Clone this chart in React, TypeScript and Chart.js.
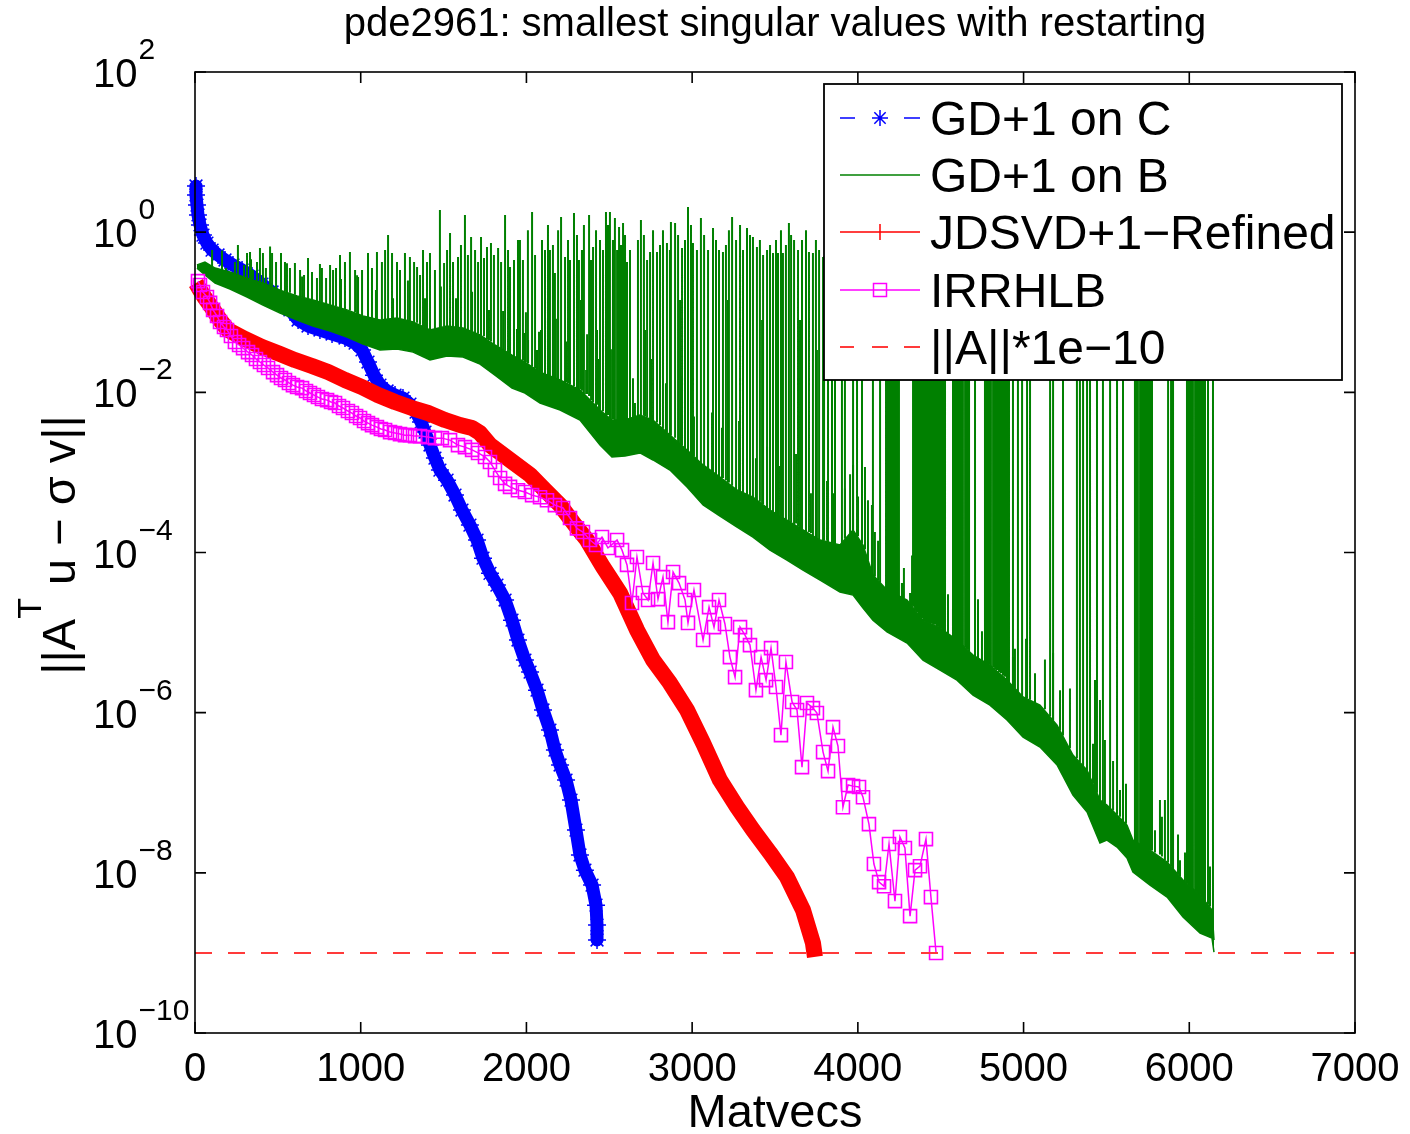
import React, { useEffect, useRef } from "react";
import { Chart, registerables } from "chart.js";

Chart.register(...registerables);

const FONT = '"Liberation Sans", Arial, Helvetica, sans-serif';

// ---------- axis ticks ----------
const xTicks = [0, 1000, 2000, 3000, 4000, 5000, 6000, 7000];
const xTickLabels = ["0", "1000", "2000", "3000", "4000", "5000", "6000", "7000"];
const yTicks = [1e2, 1e0, 1e-2, 1e-4, 1e-6, 1e-8, 1e-10];
const yTickExp = ["2", "0", "\u22122", "\u22124", "\u22126", "\u22128", "\u221210"];

// ---------- GD+1 on C ----------
const blueX = [6, 6, 12, 18, 30, 48, 72, 103, 139, 181, 229, 284, 344, 404, 465, 525, 573, 622, 682, 754, 827, 905, 966, 1008, 1044, 1080, 1116, 1159, 1207, 1255, 1297, 1334, 1364, 1388, 1418, 1448, 1478, 1521, 1569, 1611, 1659, 1702, 1738, 1780, 1822, 1871, 1913, 1949, 1991, 2022, 2064, 2100, 2142, 2172, 2203, 2239, 2269, 2299, 2323, 2353, 2396, 2420, 2426, 2426];
const blueY = [3.77, 2.91, 2.18, 1.64, 1.23, 0.92, 0.731, 0.598, 0.519, 0.449, 0.389, 0.337, 0.283, 0.225, 0.179, 0.142, 0.107, 0.08, 0.0673, 0.06, 0.0535, 0.0477, 0.0412, 0.0338, 0.0239, 0.0164, 0.0123, 0.0104, 0.00925, 0.00848, 0.00713, 0.00567, 0.00425, 0.00319, 0.0022, 0.00151, 0.00107, 8.0e-4, 5.22e-4, 3.39e-4, 2.2e-4, 1.43e-4, 8.5e-5, 5.5e-5, 3.92e-5, 2.55e-5, 1.43e-5, 8.07e-6, 4.54e-6, 3.21e-6, 1.91e-6, 1.08e-6, 6.07e-7, 3.41e-7, 2.22e-7, 1.44e-7, 8.1e-8, 3.42e-8, 1.67e-8, 1.08e-8, 7.03e-9, 3.95e-9, 2.23e-9, 1.45e-9];

// ---------- GD+1 on B: dense lower band ----------
const greenBandX = [12, 60, 121, 211, 314, 410, 513, 616, 712, 815, 917, 1014, 1116, 1219, 1316, 1418, 1521, 1617, 1720, 1810, 1913, 1991, 2082, 2203, 2323, 2444, 2516, 2595, 2685, 2764, 2866, 2969, 3066, 3168, 3271, 3367, 3470, 3572, 3669, 3772, 3892, 3971, 4031, 4091, 4176, 4297, 4393, 4496, 4598, 4695, 4797, 4900, 4997, 5099, 5202, 5298, 5383, 5461, 5503, 5564, 5624, 5660, 5763, 5866, 5962, 6065, 6137, 6149];
const greenBandLow = [0.356, 0.292, 0.232, 0.195, 0.155, 0.123, 0.0977, 0.08, 0.0673, 0.0582, 0.0491, 0.0401, 0.0338, 0.0348, 0.0318, 0.0253, 0.0284, 0.0276, 0.0225, 0.0164, 0.0113, 0.0098, 0.00735, 0.00601, 0.00451, 0.0022, 0.00156, 0.0016, 0.00175, 0.00143, 0.00107, 6.58e-4, 3.92e-4, 2.85e-4, 2.08e-4, 1.56e-4, 1.07e-4, 8.05e-5, 6.04e-5, 4.53e-5, 3.21e-5, 2.94e-5, 2.02e-5, 1.43e-5, 1.02e-5, 7.4e-6, 4.54e-6, 3.4e-6, 2.55e-6, 1.66e-6, 1.24e-6, 8.1e-7, 4.96e-7, 3.72e-7, 2.22e-7, 9.35e-8, 5.74e-8, 2.35e-8, 2.56e-8, 2.1e-8, 1.53e-8, 1.02e-8, 7.03e-9, 4.98e-9, 2.81e-9, 1.77e-9, 1.53e-9, 1.02e-9];
const greenBandHigh = [0.389, 0.424, 0.356, 0.318, 0.267, 0.232, 0.189, 0.16, 0.142, 0.123, 0.107, 0.0897, 0.08, 0.0847, 0.0755, 0.06, 0.0673, 0.0635, 0.052, 0.039, 0.0292, 0.0239, 0.0179, 0.01425, 0.0107, 0.00601, 0.00451, 0.00451, 0.0052, 0.00451, 0.00293, 0.0019, 0.00124, 8.75e-4, 6.03e-4, 4.92e-4, 3.39e-4, 2.54e-4, 1.91e-4, 1.43e-4, 1.24e-4, 1.91e-4, 1.24e-4, 5.23e-5, 3.4e-5, 2.55e-5, 1.43e-5, 1.14e-5, 8.07e-6, 5.24e-6, 3.93e-6, 2.55e-6, 1.57e-6, 1.24e-6, 7.0e-7, 2.96e-7, 1.92e-7, 8.1e-8, 7.0e-8, 5.26e-8, 3.95e-8, 2.56e-8, 1.92e-8, 1.36e-8, 8.13e-9, 5.27e-9, 3.43e-9, 1.45e-9];

// ---------- GD+1 on B: tall spikes (x, foot, tip) ----------
const greenSpikeX = [
  103, 187, 241, 314, 332, 392, 410, 465, 519, 543, 603, 634, 682, 736, 766, 815, 833, 875, 935, 966, 984, 1044, 1098, 1165, 1189, 1219, 1267, 1297, 1340, 1376, 1418, 1478, 1503, 1539, 1587, 1629, 1666, 1690, 1726, 1762, 1786, 1829, 1871, 1901, 1949,
  296, 350, 374, 428, 489, 573, 658, 706, 791, 851, 905, 1008, 1068, 1128, 1147, 1237, 1322, 1358, 1400, 1448, 1521, 1557, 1605, 1647, 1708, 1744, 1804, 1847, 1889, 1925,
  1961, 1991, 2034, 2064, 2112, 2142, 2172, 2209, 2233, 2263, 2287, 2317, 2360, 2378, 2402, 2444, 2480, 2504, 2534, 2559, 2583, 2607, 2655, 2691, 2746, 2788, 2848, 2872, 2897, 2939, 2975, 3005, 3053, 3126, 3162, 3186, 3241, 3289, 3331, 3367, 3391, 3452, 3488, 3518, 3548, 3584, 3615, 3705, 3729, 3790,
  1979, 2009, 2052, 2094, 2130, 2160, 2191, 2251, 2305, 2335, 2347, 2390, 2420, 2462, 2492, 2522, 2547, 2571, 2595, 2625, 2673, 2709, 2728, 2764, 2806, 2824, 2866, 2915, 2957, 2993, 3029, 3072, 3096, 3144, 3204, 3222, 3265, 3307, 3349, 3409, 3428, 3470, 3506, 3536, 3566, 3597, 3639, 3663, 3687, 3747, 3766,
  3796, 3820, 3844, 3862, 3904, 3922, 3971, 3995, 4025, 4091, 4134, 4182, 4200, 4218, 4236, 4333, 4357, 4375, 4399, 4417, 4435, 4454, 4478, 4502, 4526, 4574, 4598, 4622, 4647, 4659, 4707, 4767, 4791, 4816, 4840, 4864, 4888, 4900, 4936, 4966, 4991, 5021, 5039, 5160, 5178, 5238, 5322, 5340, 5359, 5383, 5401, 5443, 5479, 5522, 5564, 5600, 5672, 5690, 5709, 5727, 5745, 5763, 5872, 5890, 5902, 5986, 6010, 6035, 6059, 6083, 6113, 6143,
  4170, 4188, 4206, 4224, 4248, 4345, 4369, 4387, 4411, 4429, 4447, 4466, 4490, 4514, 4586, 4610, 4634, 4671, 4779, 4803, 4828, 4852, 4876, 4912, 5684, 5703, 5721, 5739, 5757, 5775, 5998, 6022, 6047, 6071, 6095,
];
const greenSpikePeak = [
  0.598, 0.356, 0.424, 0.549, 0.565, 0.634, 0.549, 0.549, 0.549, 0.424, 0.412, 0.337, 0.475, 0.267, 0.356, 0.389, 0.337, 0.519, 0.565, 0.337, 0.275, 0.549, 0.565, 0.92, 0.549, 0.424, 0.549, 0.49, 0.367, 0.598, 0.549, 1.89, 0.412, 0.975, 0.49, 1.64, 0.87, 0.598, 0.87, 0.652, 0.731, 0.634, 1.64, 0.367, 0.8,
  0.389, 0.337, 0.424, 0.356, 0.424, 0.356, 0.292, 0.318, 0.267, 0.356, 0.424, 0.337, 0.356, 0.424, 0.598, 0.337, 0.424, 0.292, 0.424, 0.337, 0.598, 0.424, 0.69, 0.519, 0.424, 0.475, 0.519, 0.424, 0.598, 0.449,
  0.8, 0.055, 1.79, 0.0338, 0.598, 0.598, 0.309, 1.55, 0.49, 0.449, 1.73, 0.449, 0.019, 1.64, 0.652, 0.8, 1.79, 1.79, 1.5, 1.16, 1.3, 0.424, 0.00735, 1.42, 0.565, 0.565, 0.731, 1.34, 1.3, 0.634, 2.06, 0.731, 1.5, 1.13, 0.598, 0.565, 1.55, 1.23, 1.13, 0.87, 0.652, 0.598, 0.549, 0.549, 0.549, 1.3, 0.8, 0.565, 0.549, 0.49,
  0.449, 1.06, 0.519, 0.8, 1.23, 0.69, 1.06, 0.8, 0.92, 0.598, 1.23, 0.449, 1.06, 0.598, 1.23, 0.8, 0.598, 0.69, 0.92, 0.598, 0.8, 0.92, 0.449, 1.06, 0.69, 1.06, 0.598, 0.92, 0.8, 1.23, 0.598, 0.92, 0.598, 0.8, 0.69, 1.06, 0.8, 0.598, 0.92, 0.8, 0.519, 0.69, 0.8, 1.06, 0.69, 0.92, 0.598, 0.8, 1.06, 0.8, 0.598,
  0.5, 0.8, 1.1, 0.7, 1.3, 0.9, 1.2, 0.6, 1.0, 1.4, 0.8, 1.1, 0.7, 1.2, 0.9, 1.3, 0.6, 1.0, 1.2, 0.8, 1.5, 0.9, 1.1, 0.7, 1.3, 1.0, 0.8, 1.2, 0.9, 1.4, 0.7, 1.1, 0.9, 1.3, 0.8, 1.0, 1.2, 0.6, 1.1, 0.9, 1.3, 0.8, 1.0, 1.2, 0.7, 1.1, 0.9, 1.4, 0.8, 1.0, 1.2, 0.7, 1.1, 0.9, 1.3, 0.8, 1.0, 1.2, 0.9, 1.1, 0.8, 1.3, 1.0, 0.7, 1.2, 0.9, 1.1, 0.8, 1.0, 1.3, 0.9, 1.1,
  1.0, 0.8, 1.2, 0.9, 1.1, 1.3, 0.7, 1.0, 1.2, 0.9, 1.1, 0.8, 1.3, 1.0, 0.9, 1.2, 0.8, 1.1, 1.0, 1.3, 0.7, 1.2, 0.9, 1.1, 1.0, 1.2, 0.8, 1.1, 0.9, 1.3, 1.0, 0.8, 1.2, 0.9, 1.1,
];
const greenSpikeBase = [
  0.356, 0.318, 0.29, 0.267, 0.26, 0.24, 0.232, 0.21, 0.189, 0.18, 0.165, 0.155, 0.145, 0.138, 0.133, 0.123, 0.12, 0.115, 0.105, 0.1, 0.095, 0.087, 0.082, 0.082, 0.084, 0.0847, 0.08, 0.077, 0.074, 0.066, 0.06, 0.065, 0.067, 0.066, 0.064, 0.062, 0.058, 0.055, 0.051, 0.046, 0.043, 0.037, 0.033, 0.03, 0.026,
  0.27, 0.26, 0.25, 0.225, 0.2, 0.175, 0.15, 0.142, 0.127, 0.12, 0.11, 0.09, 0.085, 0.082, 0.082, 0.083, 0.075, 0.07, 0.063, 0.062, 0.067, 0.066, 0.064, 0.06, 0.054, 0.05, 0.04, 0.035, 0.031, 0.028,
  0.025, 0.024, 0.021, 0.019, 0.017, 0.016, 0.015, 0.014, 0.013, 0.0125, 0.012, 0.011, 0.0095, 0.009, 0.0075, 0.006, 0.0052, 0.0047, 0.0045, 0.0045, 0.0045, 0.0046, 0.0049, 0.0052, 0.0046, 0.0042, 0.0032, 0.0029, 0.0027, 0.0022, 0.0018, 0.0016, 0.0013, 0.001, 9e-4, 8.5e-4, 6.8e-4, 5.8e-4, 5.2e-4, 4.9e-4, 4.5e-4, 3.6e-4, 3.1e-4, 2.9e-4, 2.7e-4, 2.4e-4, 2.2e-4, 1.8e-4, 1.6e-4, 1.4e-4,
  0.025, 0.023, 0.02, 0.017, 0.016, 0.015, 0.0145, 0.013, 0.011, 0.0105, 0.0095, 0.008, 0.0065, 0.0058, 0.0052, 0.0046, 0.0045, 0.0045, 0.0045, 0.0047, 0.005, 0.0051, 0.0049, 0.0045, 0.0039, 0.0035, 0.0029, 0.0024, 0.002, 0.0017, 0.0014, 0.0012, 0.0011, 9.5e-4, 8e-4, 7.5e-4, 6.2e-4, 5.6e-4, 5.1e-4, 4.3e-4, 4e-4, 3.4e-4, 3e-4, 2.8e-4, 2.6e-4, 2.4e-4, 2.1e-4, 1.95e-4, 1.8e-4, 1.55e-4, 1.45e-4,
  1.4e-4, 1.35e-4, 1.3e-4, 1.28e-4, 1.3e-4, 1.5e-4, 1.9e-4, 1.6e-4, 1.3e-4, 5.2e-5, 4.2e-5, 3.3e-5, 3.1e-5, 3.0e-5, 2.9e-5, 2.1e-5, 1.8e-5, 1.55e-5, 1.4e-5, 1.35e-5, 1.3e-5, 1.25e-5, 1.2e-5, 1.12e-5, 1.0e-5, 8.6e-6, 8.0e-6, 7.3e-6, 6.5e-6, 6.2e-6, 5.0e-6, 4.2e-6, 4.0e-6, 3.7e-6, 3.4e-6, 3.1e-6, 2.8e-6, 2.55e-6, 2.1e-6, 1.8e-6, 1.6e-6, 1.5e-6, 1.45e-6, 9e-7, 8e-7, 5.2e-7, 2.7e-7, 2.4e-7, 2.1e-7, 1.9e-7, 1.5e-7, 1.0e-7, 7.5e-8, 6.2e-8, 5.3e-8, 4.4e-8, 2.4e-8, 2.2e-8, 2.1e-8, 2.0e-8, 1.95e-8, 1.92e-8, 1.35e-8, 1.2e-8, 1.1e-8, 7.3e-9, 6.5e-9, 5.9e-9, 5.4e-9, 4.7e-9, 4.0e-9, 1.5e-9,
  3.5e-5, 3.3e-5, 3.1e-5, 3.0e-5, 2.8e-5, 1.9e-5, 1.65e-5, 1.5e-5, 1.4e-5, 1.35e-5, 1.3e-5, 1.25e-5, 1.15e-5, 1.05e-5, 8.3e-6, 7.6e-6, 6.8e-6, 5.8e-6, 4.1e-6, 3.8e-6, 3.5e-6, 3.2e-6, 2.9e-6, 2.4e-6, 2.3e-8, 2.15e-8, 2.05e-8, 2.0e-8, 1.93e-8, 1.9e-8, 6.9e-9, 6.2e-9, 5.6e-9, 5.0e-9, 4.4e-9,
];

// ---------- GD+1 on B: short spikes above the band ----------
const greenMidX = [
  2010, 2088, 2130, 2191, 2329, 2426, 2625, 2716, 2806, 2927, 3096, 3216, 3422, 3651, 3753, 3971, 4043, 4085, 4103, 4266, 4315, 4478, 4574, 4604, 4840, 4936, 5178, 5383, 5431, 5461, 5491, 5582, 5793, 5823, 5944,
  163, 259, 338, 453, 555, 646, 754, 881, 978, 1092, 1195, 1285, 1388, 1484, 1575, 1672, 1774, 1859, 1943,
  1997, 2076, 2178, 2239, 2366, 2438, 2510, 2643, 2752, 2842, 2933, 3011, 3120, 3180, 3283, 3385, 3452, 3524, 3627, 3717, 3814, 3856,
  3953, 4001, 4061, 4122, 4278, 4327, 4544, 4628, 4725, 4749, 4948, 5015, 5069, 5129, 5220, 5280, 5419, 5540, 5618, 5835, 5853, 5932, 5974, 6125, 3922,
];
const greenMidPeak = [
  0.045, 0.06, 0.08, 0.142, 0.142, 0.06, 0.06, 0.06, 0.142, 0.142, 0.06, 0.142, 0.08, 0.08, 0.0338, 0.00124, 0.00117, 3.92e-4, 1.8e-4, 4.15e-5, 3.12e-5, 7.4e-5, 2.02e-5, 4.93e-5, 1.43e-4, 4.94e-6, 5.55e-6, 8.1e-7, 2.55e-6, 1.44e-6, 4.55e-7, 1.08e-7, 3.4e-8, 8.1e-8, 1.44e-8,
  0.59, 0.69, 0.46, 0.66, 0.41, 0.28, 0.4, 0.26, 0.29, 0.19, 0.15, 0.25, 0.15, 0.21, 0.15, 0.18, 0.107, 0.104, 0.062,
  0.1, 0.057, 0.083, 0.043, 0.053, 0.026, 0.0345, 0.015, 0.026, 0.013, 0.016, 0.005, 0.0056, 0.0036, 0.0044, 0.0015, 0.0021, 0.0012, 0.0017, 5.5e-4, 7.8e-4, 5.5e-4,
  9.5e-4, 5e-4, 4.5e-4, 1.4e-4, 6.4e-5, 9.2e-5, 3e-5, 1.66e-5, 2.6e-5, 1.04e-5, 6.3e-6, 8.4e-6, 3.1e-6, 4.6e-6, 1.9e-6, 2e-6, 4.1e-7, 2.5e-7, 1.3e-7, 5e-8, 8.1e-8, 3e-8, 1.8e-8, 1.2e-8, 6.3e-4,
];
const greenMidBase = [
  0.023, 0.018, 0.016, 0.0145, 0.011, 0.007, 0.0046, 0.005, 0.004, 0.0023, 0.0011, 7.5e-4, 4e-4, 2e-4, 1.5e-4, 1.9e-4, 1.1e-4, 5.5e-5, 5e-5, 2.7e-5, 2.2e-5, 1.2e-5, 8.6e-6, 8e-6, 3.4e-6, 2.1e-6, 8e-7, 1.9e-7, 1.1e-7, 8.1e-8, 7.3e-8, 5e-8, 1.8e-8, 1.7e-8, 9e-9,
  0.33, 0.29, 0.26, 0.21, 0.175, 0.155, 0.128, 0.11, 0.092, 0.081, 0.084, 0.078, 0.064, 0.065, 0.065, 0.057, 0.045, 0.033, 0.026,
  0.024, 0.018, 0.0148, 0.0135, 0.0095, 0.0062, 0.0046, 0.0048, 0.0046, 0.0031, 0.0021, 0.0016, 0.001, 8.5e-4, 5.9e-4, 4.7e-4, 3.7e-4, 2.9e-4, 2.3e-4, 1.75e-4, 1.4e-4, 1.3e-4,
  1.7e-4, 1.6e-4, 8e-5, 4.5e-5, 2.7e-5, 2.2e-5, 9.5e-6, 7e-6, 4.7e-6, 4.4e-6, 2e-6, 1.5e-6, 1.3e-6, 1.1e-6, 6e-7, 3.6e-7, 1.3e-7, 6e-8, 4.1e-8, 1.6e-8, 1.45e-8, 9.5e-9, 7.6e-9, 3.8e-9, 1.5e-4,
];

// ---------- JDSVD+1-Refined ----------
const redX = [6, 30, 60, 103, 151, 199, 302, 404, 513, 603, 706, 803, 905, 1008, 1104, 1207, 1310, 1406, 1509, 1599, 1672, 1720, 1780, 1901, 2022, 2112, 2203, 2293, 2366, 2462, 2565, 2667, 2764, 2866, 2969, 3066, 3168, 3271, 3367, 3470, 3572, 3669, 3729, 3741];
const redY = [0.232, 0.19, 0.151, 0.113, 0.08, 0.06, 0.0463, 0.0368, 0.0301, 0.0253, 0.0213, 0.0179, 0.01425, 0.01164, 0.00926, 0.00757, 0.00637, 0.00552, 0.00451, 0.00391, 0.00358, 0.0031, 0.0022, 0.00143, 9.3e-4, 6.0e-4, 3.9e-4, 2.2e-4, 1.43e-4, 6.6e-5, 3.12e-5, 1.08e-5, 4.54e-6, 2.34e-6, 1.08e-6, 4.18e-7, 1.44e-7, 6.64e-8, 3.42e-8, 1.77e-8, 8.87e-9, 3.43e-9, 1.33e-9, 8.9e-10];

// ---------- IRRHLB ----------
const magX = [18, 30, 48, 72, 91, 109, 133, 151, 175, 193, 217, 241, 266, 290, 320, 344, 368, 392, 416, 441, 471, 495, 519, 543, 567, 591, 616, 646, 670, 694, 718, 742, 766, 797, 821, 845, 869, 893, 923, 947, 972, 996, 1020, 1044, 1068, 1098, 1122, 1147, 1177, 1207, 1237, 1267, 1297, 1328, 1358, 1406, 1448, 1490, 1539, 1587, 1629, 1672, 1708, 1750, 1780, 1810, 1841, 1871, 1901, 1949, 1991, 2034, 2082, 2124, 2172, 2221, 2263, 2305, 2341, 2384, 2420, 2456, 2492, 2547, 2577, 2607, 2637, 2667, 2703, 2734, 2764, 2794, 2824, 2854, 2885, 2921, 2957, 2975, 3011, 3066, 3102, 3132, 3162, 3198, 3228, 3259, 3289, 3319, 3349, 3385, 3416, 3446, 3476, 3506, 3536, 3566, 3603, 3633, 3663, 3693, 3729, 3753, 3790, 3820, 3850, 3880, 3910, 3941, 3971, 4007, 4031, 4067, 4097, 4128, 4158, 4188, 4224, 4254, 4284, 4315, 4345, 4375, 4411, 4441, 4472];
const magY = [0.245, 0.219, 0.179, 0.155, 0.131, 0.107, 0.0897, 0.0755, 0.0654, 0.06, 0.0505, 0.0425, 0.039, 0.0357, 0.0318, 0.0292, 0.0261, 0.0239, 0.0219, 0.0201, 0.0179, 0.0164, 0.0151, 0.01425, 0.0131, 0.0123, 0.01164, 0.0113, 0.0104, 0.0098, 0.00925, 0.00873, 0.00824, 0.008, 0.00757, 0.00735, 0.00675, 0.00637, 0.00584, 0.00551, 0.00506, 0.00478, 0.00438, 0.00413, 0.0039, 0.00368, 0.00348, 0.00338, 0.00319, 0.0031, 0.00301, 0.00292, 0.00292, 0.00284, 0.00284, 0.00276, 0.00268, 0.00268, 0.00253, 0.00219, 0.00207, 0.00191, 0.00175, 0.00156, 0.00135, 0.00107, 8.5e-4, 7.2e-4, 6.6e-4, 6.0e-4, 5.7e-4, 5.2e-4, 4.9e-4, 4.5e-4, 3.9e-4, 3.6e-4, 2.7e-4, 2.0e-4, 1.8e-4, 1.43e-4, 1.24e-4, 1.56e-4, 1.14e-4, 1.43e-4, 1.07e-4, 7.0e-5, 2.34e-5, 8.8e-5, 3.12e-5, 2.55e-5, 7.4e-5, 2.62e-5, 4.93e-5, 1.35e-5, 5.7e-5, 4.15e-5, 2.55e-5, 1.32e-5, 3.4e-5, 8.07e-6, 2.08e-5, 1.17e-5, 2.55e-5, 1.28e-5, 4.94e-6, 2.78e-6, 1.17e-5, 9.3e-6, 6.98e-6, 1.91e-6, 4.94e-6, 2.55e-6, 6.4e-6, 2.09e-6, 5.25e-7, 4.29e-6, 1.36e-6, 1.08e-6, 2.09e-7, 1.32e-6, 1.14e-6, 9.9e-7, 3.22e-7, 1.86e-7, 6.6e-7, 3.83e-7, 6.6e-8, 1.25e-7, 1.21e-7, 1.18e-7, 8.8e-8, 4.06e-8, 1.29e-8, 7.66e-9, 6.8e-9, 2.29e-8, 4.44e-9, 2.8e-8, 2.04e-8, 2.88e-9, 1.08e-8, 1.21e-8, 2.64e-8, 4.98e-9, 9.96e-10];

// ---------- ||A||*1e-10 ----------
const limitX = [0, 7000];
const limitY = [1e-9, 1e-9];

const legendLabels = ["GD+1 on C", "GD+1 on B", "JDSVD+1\u2212Refined", "IRRHLB", "||A||*1e\u221210"];

const BLUE = "#0000ff";
const GREEN = "#008000";
const RED = "#ff0000";
const MAGENTA = "#ff00ff";
const LIMIT = "#ff3a3a";

const pts = (xs: number[], ys: number[]) => xs.map((x, i) => ({ x, y: ys[i] }));
const segs = (xs: number[], lo: number[], hi: number[]) =>
  xs.flatMap((x, i) => [{ x, y: lo[i] }, { x, y: hi[i] }, { x, y: null as any }]);

function drawStar(ctx: CanvasRenderingContext2D, x: number, y: number, r: number) {
  ctx.beginPath();
  ctx.moveTo(x - r, y); ctx.lineTo(x + r, y);
  ctx.moveTo(x, y - r); ctx.lineTo(x, y + r);
  const d = r * Math.SQRT1_2;
  ctx.moveTo(x - d, y - d); ctx.lineTo(x + d, y + d);
  ctx.moveTo(x - d, y + d); ctx.lineTo(x + d, y - d);
  ctx.stroke();
}

const overlay = {
  id: "overlay",
  afterDraw(chart: any) {
    const { ctx, chartArea: a, scales } = chart;
    const xs = scales.x;
    const ys = scales.y;
    ctx.save();

    ctx.strokeStyle = "#000";
    ctx.lineWidth = 1.6;
    ctx.setLineDash([]);
    ctx.strokeRect(a.left, a.top, a.right - a.left, a.bottom - a.top);

    const TL = 11;
    ctx.beginPath();
    xTicks.forEach((v) => {
      const p = xs.getPixelForValue(v);
      ctx.moveTo(p, a.bottom); ctx.lineTo(p, a.bottom - TL);
      ctx.moveTo(p, a.top); ctx.lineTo(p, a.top + TL);
    });
    yTicks.forEach((v) => {
      const p = ys.getPixelForValue(v);
      ctx.moveTo(a.left, p); ctx.lineTo(a.left + TL, p);
      ctx.moveTo(a.right, p); ctx.lineTo(a.right - TL, p);
    });
    ctx.stroke();

    ctx.fillStyle = "#000";
    ctx.font = `40px ${FONT}`;
    ctx.textAlign = "center";
    ctx.textBaseline = "alphabetic";
    xTicks.forEach((v, i) => {
      ctx.fillText(xTickLabels[i], xs.getPixelForValue(v), a.bottom + 48);
    });

    ctx.textAlign = "left";
    yTicks.forEach((v, i) => {
      const p = ys.getPixelForValue(v);
      ctx.font = `40px ${FONT}`;
      ctx.fillText("10", 93, p + 15);
      const w = ctx.measureText("10").width;
      ctx.font = `30px ${FONT}`;
      ctx.fillText(yTickExp[i], 93 + w + 1, p - 13);
    });

    ctx.font = `47px ${FONT}`;
    ctx.textAlign = "center";
    ctx.fillText("Matvecs", (a.left + a.right) / 2, 1127);

    ctx.font = `40px ${FONT}`;
    ctx.fillText("pde2961: smallest singular values with restarting", (a.left + a.right) / 2, 36);

    // y axis label ||A^T u − σ v||
    ctx.save();
    ctx.translate(75, 545);
    ctx.rotate(-Math.PI / 2);
    ctx.textAlign = "left";
    const p1 = "||A";
    const p2 = "T";
    const p3 = " u \u2212 \u03c3 v||";
    ctx.font = `47px ${FONT}`;
    const w1 = ctx.measureText(p1).width;
    const w3 = ctx.measureText(p3).width;
    ctx.font = `34px ${FONT}`;
    const w2 = ctx.measureText(p2).width;
    let sx = -(w1 + w2 + w3) / 2;
    ctx.font = `47px ${FONT}`;
    ctx.fillText(p1, sx, 0);
    sx += w1;
    ctx.font = `34px ${FONT}`;
    ctx.fillText(p2, sx, -34);
    sx += w2;
    ctx.font = `47px ${FONT}`;
    ctx.fillText(p3, sx, 0);
    ctx.restore();

    // legend box
    const L = { x: 824, y: 84, w: 518, h: 296 };
    ctx.fillStyle = "#fff";
    ctx.fillRect(L.x, L.y, L.w, L.h);
    ctx.strokeStyle = "#000";
    ctx.lineWidth = 1.8;
    ctx.strokeRect(L.x, L.y, L.w, L.h);
    const rows = [118, 175, 232, 290, 347];
    const x0 = 840, x1 = 920, xm = 880;
    ctx.lineWidth = 1.5;
    ctx.strokeStyle = BLUE;
    ctx.beginPath();
    ctx.moveTo(x0, rows[0]); ctx.lineTo(x0 + 15, rows[0]);
    ctx.moveTo(x1 - 16, rows[0]); ctx.lineTo(x1, rows[0]);
    ctx.stroke();
    drawStar(ctx, xm, rows[0], 8);
    ctx.strokeStyle = GREEN;
    ctx.beginPath(); ctx.moveTo(x0, rows[1]); ctx.lineTo(x1, rows[1]); ctx.stroke();
    ctx.strokeStyle = RED;
    ctx.beginPath(); ctx.moveTo(x0, rows[2]); ctx.lineTo(x1, rows[2]);
    ctx.moveTo(xm, rows[2] - 8); ctx.lineTo(xm, rows[2] + 8); ctx.stroke();
    ctx.strokeStyle = MAGENTA;
    ctx.beginPath(); ctx.moveTo(x0, rows[3]); ctx.lineTo(x1, rows[3]); ctx.stroke();
    ctx.strokeRect(xm - 6.5, rows[3] - 6.5, 13, 13);
    ctx.strokeStyle = LIMIT;
    ctx.lineWidth = 2;
    ctx.beginPath();
    ctx.moveTo(840, rows[4]); ctx.lineTo(854, rows[4]);
    ctx.moveTo(872, rows[4]); ctx.lineTo(888, rows[4]);
    ctx.moveTo(904, rows[4]); ctx.lineTo(920, rows[4]);
    ctx.stroke();

    ctx.fillStyle = "#000";
    ctx.font = `48px ${FONT}`;
    ctx.textAlign = "left";
    legendLabels.forEach((t, i) => ctx.fillText(t, 930, rows[i] + 17));

    ctx.restore();
  },
};

export default function App() {
  const ref = useRef<HTMLCanvasElement | null>(null);

  useEffect(() => {
    document.body.style.margin = "0";
    const canvas = ref.current;
    if (!canvas) return;
    const chart = new Chart(canvas, {
      type: "line",
      data: {
        datasets: [
          {
            label: legendLabels[4],
            data: pts(limitX, limitY),
            borderColor: LIMIT,
            borderWidth: 2,
            borderDash: [17, 16],
            pointRadius: 0,
            order: 0,
          },
          {
            label: legendLabels[3],
            data: pts(magX, magY),
            borderColor: MAGENTA,
            borderWidth: 1.5,
            pointStyle: "rect",
            pointRadius: 9.2,
            pointBorderColor: MAGENTA,
            pointBackgroundColor: "rgba(0,0,0,0)",
            pointBorderWidth: 1.6,
            clip: false,
            order: 1,
          },
          {
            label: legendLabels[2],
            data: pts(redX, redY),
            borderColor: RED,
            borderWidth: 16,
            borderJoinStyle: "round",
            borderCapStyle: "butt",
            pointRadius: 0,
            clip: false,
            order: 2,
          },
          {
            label: legendLabels[1],
            data: pts(greenBandX, greenBandLow),
            borderColor: GREEN,
            borderWidth: 1.5,
            pointRadius: 0,
            fill: false,
            order: 3,
          },
          {
            label: legendLabels[1] + " band",
            data: pts(greenBandX, greenBandHigh),
            borderColor: GREEN,
            backgroundColor: GREEN,
            borderWidth: 1.5,
            pointRadius: 0,
            fill: "-1",
            order: 3,
          },
          {
            label: legendLabels[1] + " spikes",
            data: segs(greenSpikeX, greenSpikeBase, greenSpikePeak),
            borderColor: GREEN,
            borderWidth: 2,
            pointRadius: 0,
            spanGaps: false,
            order: 3,
          },
          {
            label: legendLabels[1] + " short spikes",
            data: segs(greenMidX, greenMidBase, greenMidPeak),
            borderColor: GREEN,
            borderWidth: 2,
            pointRadius: 0,
            spanGaps: false,
            order: 3,
          },
          {
            label: legendLabels[0],
            data: pts(blueX, blueY),
            borderColor: BLUE,
            borderWidth: 13,
            borderJoinStyle: "round",
            pointStyle: "star",
            pointRadius: 9,
            pointBorderColor: BLUE,
            pointBackgroundColor: BLUE,
            pointBorderWidth: 1.5,
            clip: false,
            order: 4,
          },
        ] as any,
      },
      options: {
        animation: false,
        responsive: false,
        devicePixelRatio: 1,
        layout: { padding: { top: 72, right: 55, left: 0, bottom: 0 } },
        elements: { line: { tension: 0 } },
        plugins: {
          legend: { display: false },
          tooltip: { enabled: false },
          title: { display: false },
        },
        scales: {
          x: {
            type: "linear",
            min: 0,
            max: 7000,
            ticks: { display: false },
            grid: { display: false },
            border: { display: false },
            afterFit: (s: any) => { s.height = 101; },
          },
          y: {
            type: "logarithmic",
            min: 1e-10,
            max: 1e2,
            ticks: { display: false },
            grid: { display: false },
            border: { display: false },
            afterFit: (s: any) => { s.width = 195; },
          },
        },
      } as any,
      plugins: [overlay],
    });
    return () => chart.destroy();
  }, []);

  return (
    <div style={{ width: 1410, height: 1134, background: "#fff" }}>
      <canvas ref={ref} width={1410} height={1134} style={{ display: "block" }} />
    </div>
  );
}
